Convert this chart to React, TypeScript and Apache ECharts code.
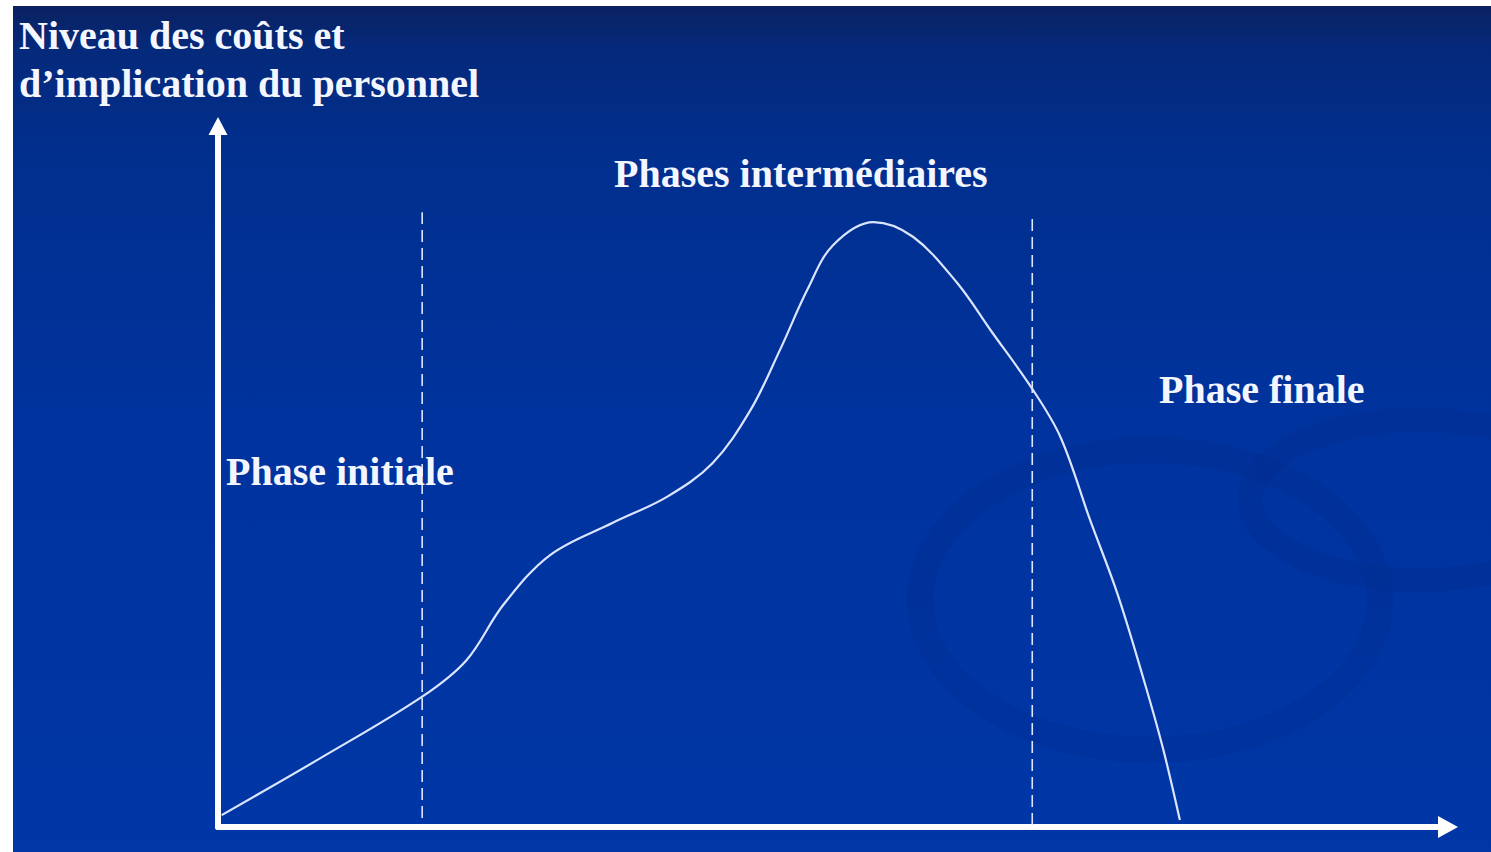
import React, { useEffect, useRef } from "react";
import * as echarts from "echarts";

// Curve: level of costs and staff involvement over the project's life
const curveX = [0.3, 8.5, 16.6, 20.2, 23.2, 27.0, 32.1, 36.5, 40.2, 43.3, 45.7, 47.9, 50.0, 53.3, 56.5, 60.1, 62.8, 66.2, 68.5, 70.9, 73.1, 75.2, 76.8, 78.2];
const curveY = [1.7, 10.0, 18.6, 23.8, 31.7, 38.8, 43.4, 47.1, 51.9, 59.5, 68.1, 76.6, 83.0, 86.3, 84.2, 77.6, 70.9, 62.5, 55.6, 43.8, 33.4, 21.4, 11.4, 1.0];

// Phase boundaries (dashed lines)
const boundaryX = [16.6, 66.2];
const boundaryTop = [87.7, 86.9];
const boundaryBottom = [1.3, 0.3];

// Texts
const axisTitleLines = ["Niveau des coûts et", "d\u2019implication du personnel"];
const phaseLabels = ["Phase initiale", "Phases intermédiaires", "Phase finale"];

export default function App() {
  const ref = useRef<HTMLDivElement>(null);

  useEffect(() => {
    document.body.style.margin = "0";
    if (!ref.current) return;
    const chart = echarts.init(ref.current, null, { renderer: "svg" });

    const font = 'bold 40px "Liberation Serif", "Times New Roman", serif';
    const textEl = (text: string, x: number, y: number) => ({
      type: "text",
      z: 10,
      style: {
        text,
        x,
        y,
        font,
        fill: "#f4f6ff",
        textAlign: "left",
        textVerticalAlign: "bottom",
        shadowColor: "rgba(0,0,40,0.7)",
        shadowBlur: 3,
      },
    });

    const axisCommon = {
      type: "value",
      min: 0,
      max: 100,
      axisTick: { show: false },
      axisLabel: { show: false },
      splitLine: { show: false },
    };

    chart.setOption({
      animation: false,
      backgroundColor: "transparent",
      grid: { left: 218, right: 43, top: 126, bottom: 25, containLabel: false },
      xAxis: {
        ...axisCommon,
        axisLine: {
          show: true,
          symbol: ["none", "triangle"],
          symbolSize: [22, 20],
          lineStyle: { color: "#ffffff", width: 6 },
        },
      },
      yAxis: {
        ...axisCommon,
        axisLine: {
          show: true,
          symbol: ["none", "triangle"],
          symbolSize: [19, 18],
          lineStyle: { color: "#ffffff", width: 6 },
        },
      },
      series: [
        {
          type: "line",
          data: curveX.map((x, i) => [x, curveY[i]]),
          smooth: 0.35,
          showSymbol: false,
          lineStyle: { color: "#dbe5ff", width: 2.2 },
          z: 5,
        },
        ...boundaryX.map((x, i) => ({
          type: "line",
          data: [
            [x, boundaryBottom[i]],
            [x, boundaryTop[i]],
          ],
          showSymbol: false,
          lineStyle: { color: "#dbe5ff", width: 1.6, type: [12, 6] },
          z: 4,
        })),
      ],
      graphic: [
        {
          type: "ellipse",
          z: -1,
          silent: true,
          shape: { cx: 1150, cy: 600, rx: 230, ry: 150 },
          style: { fill: "none", stroke: "rgba(0,30,110,0.1)", lineWidth: 26 },
        },
        {
          type: "ellipse",
          z: -1,
          silent: true,
          shape: { cx: 1420, cy: 500, rx: 170, ry: 80 },
          style: { fill: "none", stroke: "rgba(0,30,110,0.1)", lineWidth: 24 },
        },
        textEl(axisTitleLines[0], 19, 55),
        textEl(axisTitleLines[1], 19, 103),
        textEl(phaseLabels[0], 226, 491),
        textEl(phaseLabels[1], 614, 193),
        textEl(phaseLabels[2], 1159, 409),
      ],
    });

    return () => chart.dispose();
  }, []);

  return (
    <div style={{ position: "relative", width: 1491, height: 852, background: "#ffffff", overflow: "hidden" }}>
      <div
        style={{
          position: "absolute",
          left: 13,
          top: 6,
          width: 1478,
          height: 846,
          background:
            "linear-gradient(to bottom, #0a2160 0px, #05297a 40px, #012f8e 150px, #00339e 420px, #0036a6 846px)",
        }}
      />
      <div ref={ref} style={{ position: "absolute", left: 0, top: 0, width: 1491, height: 852 }} />
    </div>
  );
}
